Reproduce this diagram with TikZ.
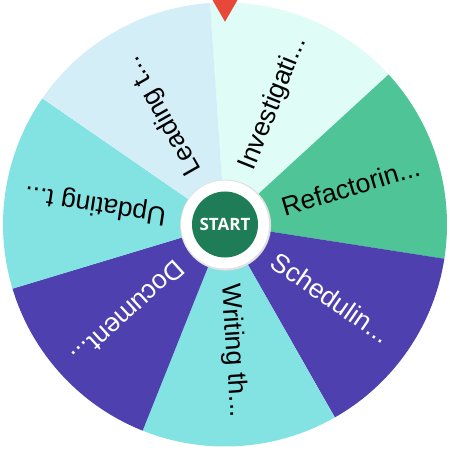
\documentclass[tikz,border=0pt]{standalone}
\usepackage{fontspec}
\setmainfont{Liberation Sans}
\newfontfamily\hubfont{Open Sans}
\usepackage{tikz}
\usetikzlibrary{positioning}

\definecolor{wheelpale}{RGB}{223,252,247}
\definecolor{wheelgreen}{RGB}{78,196,151}
\definecolor{wheelpurple}{RGB}{79,64,176}
\definecolor{wheelaqua}{RGB}{131,226,226}
\definecolor{wheelsky}{RGB}{211,238,247}
\definecolor{hubgreen}{RGB}{30,125,86}
\definecolor{pointerred}{RGB}{232,72,58}

\newcommand{\trail}{...}

\tikzset{
  spinlabel/.style={anchor=west, inner sep=0pt, font=\fontsize{26.5}{30}\selectfont},
  hub/.style={circle, inner sep=0pt, fill=#1},
}

\begin{document}
\begin{tikzpicture}[x=1pt, y=1pt]
  \useasboundingbox (-225,-225.5) rectangle (225,224.5);
  \foreach \ang/\col/\txt/\ink [count=\i] in {
      68.2/wheelpale/Investigati\trail/black,
      16.8/wheelgreen/Refactorin\trail/black,
      -34.6/wheelpurple/Schedulin\trail/white,
      -86.1/wheelaqua/Writing th\trail/black,
      -137.5/wheelpurple/Document\trail/white,
      171.1/wheelaqua/Updating t\trail/black,
      119.6/wheelsky/Leading t\trail/black}
  {
    \fill[\col] (0,0) -- (\ang+25.72:222)
      arc[start angle=\ang+25.72, end angle=\ang-25.72, radius=222pt] -- cycle;
    \node[spinlabel, text=\ink, rotate=\ang] (lbl\i) at (\ang:59.5) {\txt};
  }

  \node[hub=black!12, minimum size=91pt] (hubshade) at (0.6,-0.6) {};
  \node[hub=white, minimum size=88pt] (hubring) at (0,0) {};
  \node[hub=hubgreen, minimum size=66pt, text=white,
        font=\hubfont\bfseries\fontsize{17}{18}\selectfont] (start) at (0,0) {START};

  \fill[pointerred] (-12.5,224.5) -- (12.5,224.5) -- (0,202.8) -- cycle;
\end{tikzpicture}
\end{document}
